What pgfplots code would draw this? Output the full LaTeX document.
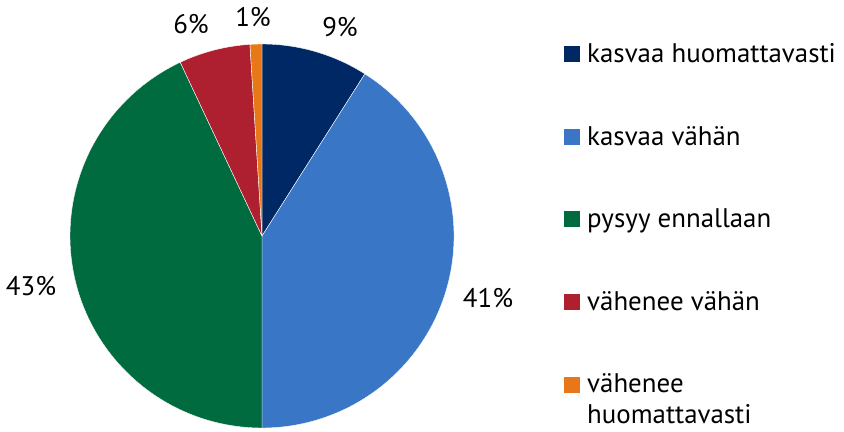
\documentclass[border=0pt]{standalone}
\usepackage{pgfplots}
\pgfplotsset{compat=1.18}
\usepackage{pgfplotstable}
\usepackage{fontspec}
\setmainfont{PT Sans}
\definecolor{c1}{HTML}{002864}
\definecolor{c2}{HTML}{3A76C6}
\definecolor{c3}{HTML}{006B3F}
\definecolor{c4}{HTML}{AE1F2F}
\definecolor{c5}{HTML}{E87817}
\pgfplotstableread{
idx value
0 9
1 41
2 43
3 6
4 1
}\piedata
\begin{document}
\begin{tikzpicture}[x=1bp,y=1bp]
\begin{axis}[
  width=844bp, height=432bp, scale only axis,
  xmin=0, xmax=844, ymin=0, ymax=432,
  hide axis, clip=false,
]
\path (axis cs:0,0) rectangle (axis cs:844,432);
\pgfplotstablegetelem{0}{value}\of\piedata \let\va\pgfplotsretval
\pgfplotstablegetelem{1}{value}\of\piedata \let\vb\pgfplotsretval
\pgfplotstablegetelem{2}{value}\of\piedata \let\vc\pgfplotsretval
\pgfplotstablegetelem{3}{value}\of\piedata \let\vd\pgfplotsretval
\pgfplotstablegetelem{4}{value}\of\piedata \let\ve\pgfplotsretval
\pgfmathsetmacro\aA{90}
\pgfmathsetmacro\aB{\aA-3.6*\va}
\pgfmathsetmacro\aC{\aB-3.6*\vb}
\pgfmathsetmacro\aD{\aC-3.6*\vc}
\pgfmathsetmacro\aE{\aD-3.6*\vd}
\pgfmathsetmacro\aF{\aE-3.6*\ve}
\def\R{192bp}
\fill[c1,draw=white,line width=0.4pt] (axis cs:262,196) -- ++(\aA:\R) arc[start angle=\aA,end angle=\aB,radius=\R] -- cycle;
\fill[c2,draw=white,line width=0.4pt] (axis cs:262,196) -- ++(\aB:\R) arc[start angle=\aB,end angle=\aC,radius=\R] -- cycle;
\fill[c3,draw=white,line width=0.4pt] (axis cs:262,196) -- ++(\aC:\R) arc[start angle=\aC,end angle=\aD,radius=\R] -- cycle;
\fill[c4,draw=white,line width=0.4pt] (axis cs:262,196) -- ++(\aD:\R) arc[start angle=\aD,end angle=\aE,radius=\R] -- cycle;
\fill[c5,draw=white,line width=0.4pt] (axis cs:262,196) -- ++(\aE:\R) arc[start angle=\aE,end angle=\aF,radius=\R] -- cycle;
% percentage labels
\tikzset{pl/.style={font=\fontsize{27}{30}\selectfont, inner sep=0pt}}
\node[pl] at (axis cs:340,405) {9\%};
\node[pl] at (axis cs:488,134) {41\%};
\node[pl] at (axis cs:31,145.5) {43\%};
\node[pl] at (axis cs:191,408) {6\%};
\node[pl] at (axis cs:253,414.5) {1\%};
% legend
\tikzset{lt/.style={font=\fontsize{27}{30}\selectfont, anchor=base west, inner sep=0pt}}
\fill[c1] (axis cs:564,370) rectangle (axis cs:580,386);
\node[lt] at (axis cs:587,369) {kasvaa huomattavasti};
\fill[c2] (axis cs:564,287) rectangle (axis cs:580,303);
\node[lt] at (axis cs:587,286) {kasvaa vähän};
\fill[c3] (axis cs:564,205) rectangle (axis cs:580,221);
\node[lt] at (axis cs:587,204) {pysyy ennallaan};
\fill[c4] (axis cs:564,122) rectangle (axis cs:580,138);
\node[lt] at (axis cs:587,121) {vähenee vähän};
\fill[c5] (axis cs:564,39) rectangle (axis cs:580,55);
\node[lt] at (axis cs:587,39) {vähenee};
\node[lt] at (axis cs:587,9) {huomattavasti};
\end{axis}
\end{tikzpicture}
\end{document}
